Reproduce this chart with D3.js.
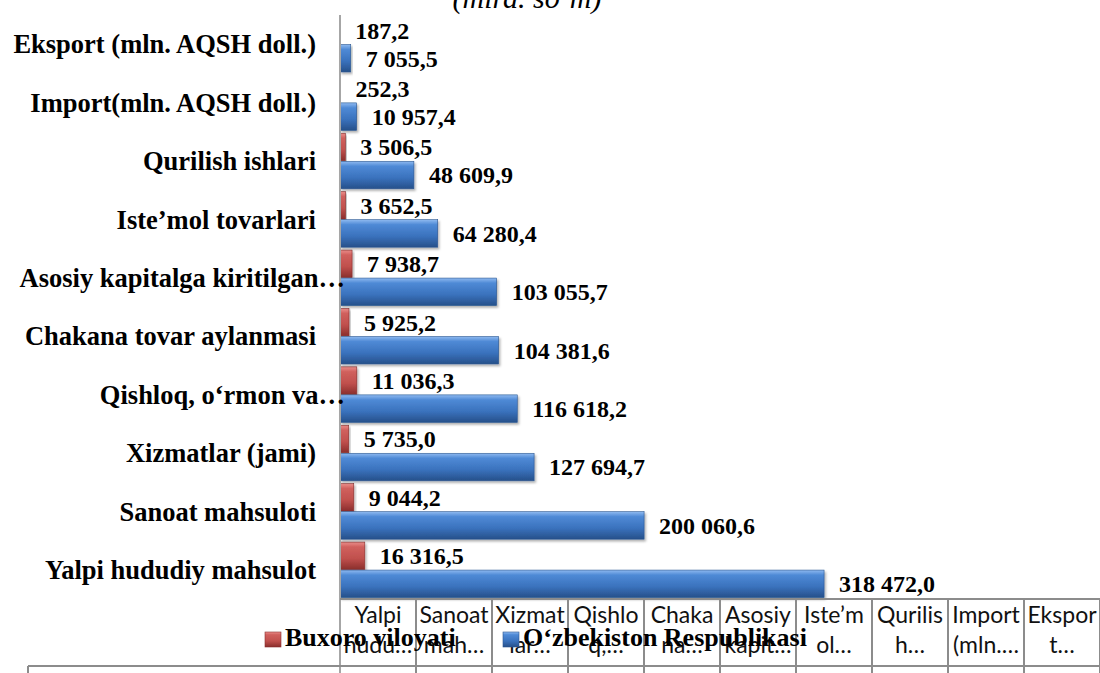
<!DOCTYPE html>
<html>
<head>
<meta charset="utf-8">
<script src="https://cdn.jsdelivr.net/npm/d3@7"></script>
<style>
  body { margin: 0; background: #fff; }
  svg { display: block; }
</style>
</head>
<body>
<div id="chart"></div>
<script>
// chart data (series order as in the source, first = bottom)
let categories = [
    "Yalpi hududiy mahsulot",
    "Sanoat mahsuloti",
    "Xizmatlar (jami)",
    "Qishloq, o‘rmon va…",
    "Chakana tovar aylanmasi",
    "Asosiy kapitalga kiritilgan…",
    "Iste’mol tovarlari",
    "Qurilish ishlari",
    "Import(mln. AQSH doll.)",
    "Eksport (mln. AQSH doll.)"
];
let buxoro = [16316.5, 9044.2, 5735.0, 11036.3, 5925.2, 7938.7, 3652.5, 3506.5, 252.3, 187.2];
let uzbekiston = [318472.0, 200060.6, 127694.7, 116618.2, 104381.6, 103055.7, 64280.4, 48609.9, 10957.4, 7055.5];
let seriesNames = ["Buxoro viloyati", "O‘zbekiston Respublikasi"];
let tableLabels = [
    ["Yalpi", "hudu…"], ["Sanoat", "mah…"], ["Xizmat", "lar…"], ["Qishlo", "q,…"],
    ["Chaka", "na…"], ["Asosiy", "kapit…"], ["Iste’m", "ol…"], ["Qurilis", "h…"],
    ["Import", "(mln.…"], ["Ekspor", "t…"]
];
let xMax = 500000;
let unitTitle = "(mlrd. so‘m)";

let width = 1100,
    height = 673;
let plot = {left: 340, right: 1100, top: 15, bottom: 599};

let svg = d3.select("#chart")
    .append("svg")
    .attr("width", width)
    .attr("height", height);

let defs = svg.append("defs");

function addGradient(id, stops) {
    let g = defs.append("linearGradient")
        .attr("id", id)
        .attr("x1", 0).attr("y1", 0).attr("x2", 0).attr("y2", 1);
    stops.forEach(function(s) {
        g.append("stop").attr("offset", s[0]).attr("stop-color", s[1]);
    });
}
addGradient("gradBlue", [[0, "#8fbaf0"], [0.18, "#4f8ad6"], [0.6, "#3a72bd"], [1, "#26508a"]]);
addGradient("gradRed", [[0, "#ec8f8c"], [0.18, "#d0605d"], [0.6, "#c0504d"], [1, "#8a2e2c"]]);

defs.append("filter")
    .attr("id", "shadow")
    .attr("x", -0.1).attr("y", -0.2).attr("width", 1.3).attr("height", 1.6)
    .append("feDropShadow")
    .attr("dx", 1.5).attr("dy", 2).attr("stdDeviation", 1.2)
    .attr("flood-color", "#000").attr("flood-opacity", 0.3);

let data = categories.map(function(c, i) {
    return {category: c, values: [buxoro[i], uzbekiston[i]]};
});

let x = d3.scaleLinear()
    .domain([0, xMax])
    .range([plot.left, plot.right]);

let y = d3.scaleBand()
    .domain(categories.slice().reverse())
    .range([plot.top, plot.bottom])
    .paddingInner(0.03)
    .paddingOuter(0.015);

let ySub = d3.scaleBand()
    .domain([0, 1])
    .range([0, y.bandwidth()])
    .padding(0.02);

let fmt = d3.formatLocale({decimal: ",", thousands: " ", grouping: [3], currency: ["", ""]}).format(",.1f");
let fills = ["url(#gradRed)", "url(#gradBlue)"];
let strokes = ["#8a2e2c", "#2a5590"];
let serif = "'Liberation Serif', 'Times New Roman', serif";

// title (cut off at top edge as in the source)
svg.append("text")
    .attr("x", 527)
    .attr("y", 8)
    .attr("text-anchor", "middle")
    .style("font-family", serif)
    .style("font-style", "italic")
    .style("font-size", "30px")
    .text(unitTitle);

// bars
let groups = svg.selectAll("g.cat")
    .data(data)
    .enter()
    .append("g")
    .attr("class", "cat")
    .attr("transform", function(d) { return `translate(0, ${y(d.category)})`; });

groups.selectAll("rect")
    .data(function(d) { return d.values; })
    .enter()
    .append("rect")
    .attr("x", x(0))
    .attr("y", function(d, i) { return ySub(i); })
    .attr("width", function(d) { return x(d) - x(0); })
    .attr("height", ySub.bandwidth())
    .attr("fill", function(d, i) { return fills[i]; })
    .attr("stroke", function(d, i) { return strokes[i]; })
    .attr("stroke-width", 0.6)
    .attr("filter", "url(#shadow)");

groups.selectAll("text.val")
    .data(function(d) { return d.values; })
    .enter()
    .append("text")
    .attr("class", "val")
    .attr("x", function(d) { return x(d) + 15; })
    .attr("y", function(d, i) { return ySub(i) + ySub.bandwidth() / 2; })
    .attr("dy", "0.35em")
    .style("font-family", serif)
    .style("font-weight", "bold")
    .style("font-size", "24px")
    .text(function(d) { return fmt(d); });

// category axis line and labels
svg.append("line")
    .attr("x1", plot.left).attr("x2", plot.left)
    .attr("y1", plot.top).attr("y2", height)
    .attr("stroke", "#a6a6a6")
    .attr("stroke-width", 2);

svg.selectAll("text.cat-label")
    .data(categories)
    .enter()
    .append("text")
    .attr("class", "cat-label")
    .attr("x", function(d) { return d.endsWith("…") ? plot.left + 5 : plot.left - 24; })
    .attr("y", function(d) { return y(d) + y.bandwidth() / 2; })
    .attr("dy", "0.35em")
    .attr("text-anchor", "end")
    .style("font-family", serif)
    .style("font-weight", "bold")
    .style("font-size", "26.5px")
    .text(function(d) { return d; });

// data table under the chart
let cellW = (plot.right - plot.left) / tableLabels.length;
let tableTop = 599, tableLine = 666;
let gridColor = "#8c8c8c";

svg.append("line")
    .attr("x1", plot.left).attr("x2", plot.right)
    .attr("y1", tableTop).attr("y2", tableTop)
    .attr("stroke", gridColor).attr("stroke-width", 2);
svg.append("line")
    .attr("x1", 28).attr("x2", plot.right)
    .attr("y1", tableLine).attr("y2", tableLine)
    .attr("stroke", gridColor).attr("stroke-width", 2);
svg.append("line")
    .attr("x1", 28).attr("x2", 28)
    .attr("y1", tableLine).attr("y2", height)
    .attr("stroke", gridColor).attr("stroke-width", 2);

d3.range(1, tableLabels.length + 1).forEach(function(i) {
    svg.append("line")
        .attr("x1", plot.left + i * cellW).attr("x2", plot.left + i * cellW)
        .attr("y1", tableTop).attr("y2", height)
        .attr("stroke", gridColor).attr("stroke-width", 2);
});

let cells = svg.selectAll("text.cell")
    .data(tableLabels)
    .enter()
    .append("text")
    .attr("class", "cell")
    .attr("text-anchor", "middle")
    .style("font-family", "Lato, 'Noto Sans', sans-serif")
    .style("font-size", "23px")
    .style("fill", "#111");

cells.selectAll("tspan")
    .data(function(d, i) { return d.map(function(t) { return {t: t, i: i}; }); })
    .enter()
    .append("tspan")
    .attr("x", function(d) { return plot.left + (d.i + 0.5) * cellW; })
    .attr("y", function(d, j) { return 623 + j * 30; })
    .text(function(d) { return d.t; });

// legend (overlaps the table, as in the source)
let legendX = [265, 503];
let legend = svg.selectAll("g.legend")
    .data(seriesNames)
    .enter()
    .append("g")
    .attr("class", "legend")
    .attr("transform", function(d, i) { return `translate(${legendX[i]}, 632)`; });

legend.append("rect")
    .attr("width", 16)
    .attr("height", 15)
    .attr("fill", function(d, i) { return fills[i]; })
    .attr("stroke", function(d, i) { return strokes[i]; })
    .attr("stroke-width", 0.6);

legend.append("text")
    .attr("x", 20)
    .attr("y", 14)
    .style("font-family", serif)
    .style("font-weight", "bold")
    .style("font-size", "26px")
    .text(function(d) { return d; });
</script>
</body>
</html>
